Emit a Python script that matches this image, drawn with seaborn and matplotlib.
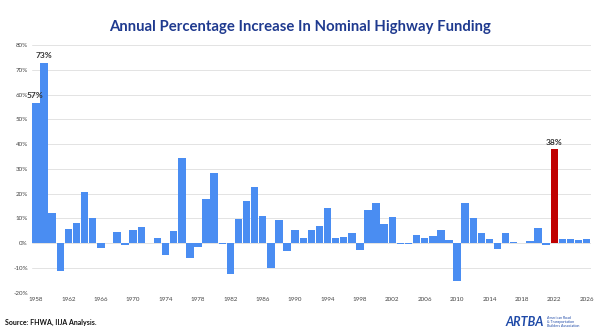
import matplotlib
matplotlib.use("Agg")
import matplotlib.pyplot as plt
import seaborn as sns
import pandas as pd
import numpy as np

years = list(range(1958, 2027))
pct_change = [
    56.5, 72.8, 12.2, -11.3, 5.8, 8.2, 20.6, 10.1, -1.9, 0.0,
    4.7, -0.8, 5.2, 6.7, 0.0, 2.2, -4.7, 5.0, 34.3, -6.1,
    -1.6, 17.8, 28.4, -0.5, -12.6, 9.6, 17.2, 22.6, 10.9, -10.1,
    9.4, -3.2, 5.4, 1.9, 5.4, 6.9, 14.0, 2.0, 2.3, 4.2,
    -2.7, 13.3, 16.3, 7.7, 10.4, -0.5, -0.5, 3.4, 1.9, 2.7,
    5.5, 1.2, -15.1, 16.3, 10.0, 3.9, 1.7, -2.3, 3.9, 0.3,
    0.1, 0.7, 6.1, -0.7, 38.2, 1.6, 1.6, 1.3, 1.6,
]
highlight_year = 2022
labels = {1958: "57%", 1959: "73%", 2022: "38%"}
tick_years = list(range(1958, 2027, 4))
yticks = list(range(-20, 81, 10))

df = pd.DataFrame({"year": [str(y) for y in years], "pct": pct_change})
df["group"] = ["hl" if y == highlight_year else "base" for y in years]

sns.set_style("white")
plt.rcParams["font.family"] = ["Lato", "DejaVu Sans"]

fig = plt.figure(figsize=(6.0, 3.34), dpi=100)
ax = fig.add_axes([0.0533, 0.1237, 0.9312, 0.7416])

sns.barplot(data=df, x="year", y="pct", hue="group",
            palette={"base": "#4A8DF2", "hl": "#C00000"},
            order=df["year"], dodge=False, width=0.92, legend=False,
            saturation=1, ax=ax, zorder=3, edgecolor="none")

ax.set_xlim(-0.5, len(years) - 0.5)
ax.set_ylim(-20, 80)
ax.set_yticks(yticks)
ax.set_yticklabels([f"{v}%" for v in yticks], fontsize=4.5, color="#444444")
xt = [years.index(y) for y in tick_years]
ax.set_xticks(xt)
ax.set_xticklabels([str(y) for y in tick_years], fontsize=4.5, color="#444444")
ax.tick_params(axis="both", length=0, pad=3)
ax.grid(axis="y", color="#E3E3E3", linewidth=0.7, zorder=0)
ax.set_axisbelow(True)
for s in ax.spines.values():
    s.set_visible(False)
ax.set_xlabel("")
ax.set_ylabel("")

for yr, txt in labels.items():
    i = years.index(yr)
    v = pct_change[i]
    if yr == 1958:
        ax.text(i - 0.15, v + 1.5, txt, ha="center", va="bottom", fontsize=6,
                fontweight="bold", color="#333333", zorder=5)
    elif yr == 1959:
        ax.text(i, v + 1.5, txt, ha="center", va="bottom", fontsize=6,
                fontweight="bold", color="#333333", zorder=5)
    else:
        ax.text(i, v + 1.2, txt, ha="center", va="bottom", fontsize=6,
                fontweight="bold", color="#333333", zorder=5)

fig.text(0.5, 0.918, "Annual Percentage Increase In Nominal Highway Funding",
         ha="center", va="center", fontsize=10.7, fontweight="bold",
         color="#1F3A8F")

fig.text(0.008, 0.036, "Source: FHWA, IIJA Analysis.", ha="left", va="center",
         fontsize=5, fontweight="bold", color="#111111")

fig.text(0.842, 0.036, "ARTBA", ha="left", va="center", fontsize=9,
         fontweight="bold", style="italic", color="#1F4AA8")
fig.text(0.912, 0.036, "American Road\n& Transportation\nBuilders Association",
         ha="left", va="center", fontsize=2.6, color="#1F4AA8", linespacing=1.1)

fig.savefig("out.png", dpi=100)
